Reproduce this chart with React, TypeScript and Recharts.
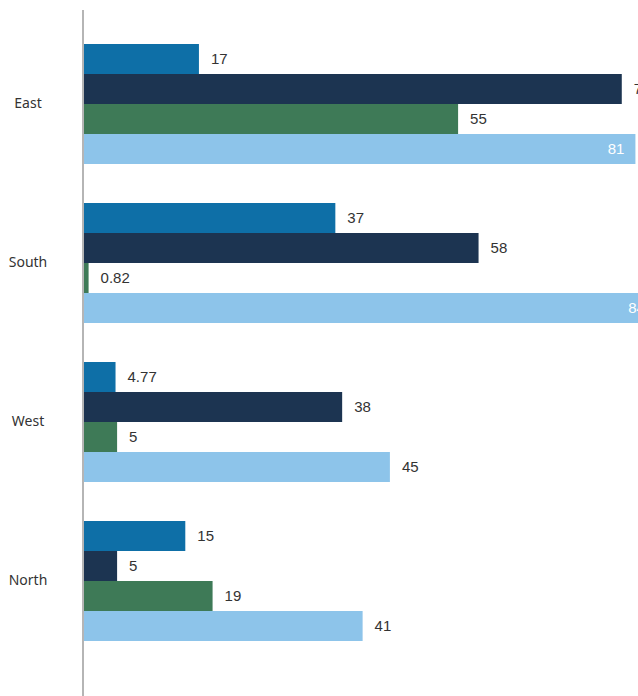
import React from "react";
import { BarChart, Bar, XAxis, YAxis, LabelList } from "recharts";

const categories = ["East", "South", "West", "North"];
const series1 = [17, 37, 4.77, 15];
const series2 = [79, 58, 38, 5];
const series3 = [55, 0.82, 5, 19];
const series4 = [81, 84, 45, 41];

const colors = ["#0e6fa7", "#1c3451", "#3e7a57", "#8dc4ea"];

const data = categories.map((c, i) => ({
  name: c,
  s1: series1[i],
  s2: series2[i],
  s3: series3[i],
  s4: series4[i],
}));

const INSIDE_LIMIT = 630;

const ValueLabel = (props: any) => {
  const { x, y, width, height, value } = props;
  const end = x + width;
  const cy = y + height / 2;
  if (end > INSIDE_LIMIT) {
    return (
      <text
        x={end - 11}
        y={cy}
        dy="0.35em"
        textAnchor="end"
        fill="#ffffff"
        fontFamily="'Liberation Sans', Arial, sans-serif"
        fontSize={15}
      >
        {value}
      </text>
    );
  }
  return (
    <text
      x={end + 12}
      y={cy}
      dy="0.35em"
      textAnchor="start"
      fill="#333333"
      fontFamily="'Liberation Sans', Arial, sans-serif"
      fontSize={15}
    >
      {value}
    </text>
  );
};

const CategoryTick = (props: any) => {
  const { y, payload } = props;
  return (
    <text
      x={28}
      y={y}
      dy="0.35em"
      textAnchor="middle"
      fill="#333333"
      fontFamily="'Noto Sans', 'Open Sans', sans-serif"
      fontSize={14}
    >
      {payload.value}
    </text>
  );
};

export default function App() {
  const keys = ["s1", "s2", "s3", "s4"];
  return (
    <div
      style={{
        position: "fixed",
        left: 0,
        top: 0,
        width: 638,
        height: 696,
        overflow: "hidden",
        background: "#ffffff",
      }}
    >
      <BarChart
        width={765}
        height={710}
        data={data}
        layout="vertical"
        margin={{ top: 10, right: 0, bottom: 0, left: 0 }}
        barGap={0}
        barSize={30}
      >
        <XAxis type="number" domain={[0, 100]} hide />
        <YAxis
          type="category"
          dataKey="name"
          width={83}
          axisLine={{ stroke: "#b5b5b5", strokeWidth: 2 }}
          tickLine={false}
          tick={<CategoryTick />}
          padding={{ top: 14, bottom: 50 }}
        />
        {keys.map((k, i) => (
          <Bar key={k} dataKey={k} fill={colors[i]} isAnimationActive={false}>
            <LabelList dataKey={k} content={<ValueLabel />} />
          </Bar>
        ))}
      </BarChart>
    </div>
  );
}
